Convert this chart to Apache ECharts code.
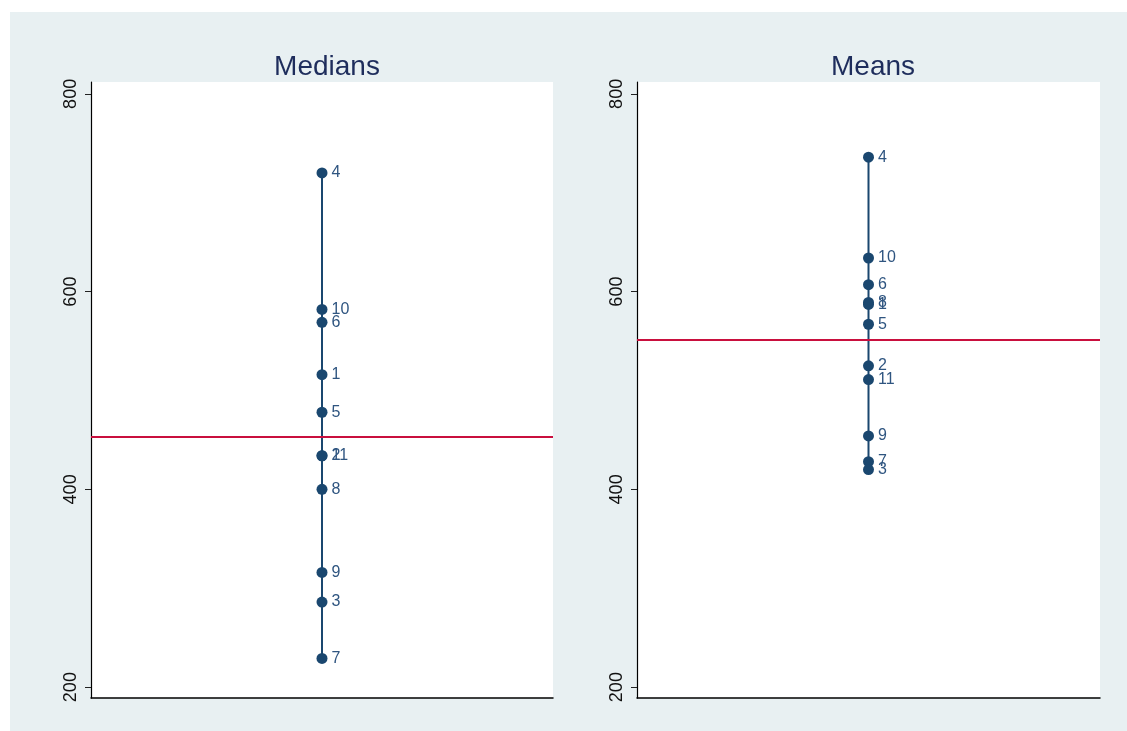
<!DOCTYPE html>
<html>
<head>
<meta charset="utf-8">
<title>Medians and Means</title>
<script src="https://cdn.jsdelivr.net/npm/echarts@6/dist/echarts.min.js"></script>
<style>
  html, body { margin: 0; padding: 0; background: #ffffff; }
  #chart { width: 1127px; height: 731px; }
</style>
</head>
<body>
<div id="chart"></div>
<script>
// Group identifiers and their summary values (one point per group)
const medianIds    = [4, 10, 6, 1, 5, 2, 11, 8, 9, 3, 7];
const medianValues = [720, 582, 569, 516, 478, 434, 434, 400, 316, 286, 229];
const medianRef    = 453;   // overall median

const meanIds      = [4, 10, 6, 8, 1, 5, 2, 11, 9, 7, 3];
const meanValues   = [736, 634, 607, 589, 587, 567, 525, 511, 454, 428, 420];
const meanRef      = 551;   // overall mean

const panelTitles  = ['Medians', 'Means'];
const tickValues   = [200, 400, 600, 800];

const navy = '#1a476f';
const labelBlue = '#2f5580';
const refRed = '#c90f3e';
const fontFam = 'Liberation Sans, Arial, sans-serif';

function points(ids, values) {
  return ids.map((id, i) => ({ value: [0.5, values[i]], name: String(id) }));
}

function yAxisFor(idx) {
  return {
    type: 'value', gridIndex: idx, min: 189, max: 812,
    splitLine: { show: false },
    axisLine: { show: true, lineStyle: { color: '#000', width: 1.2 } },
    axisTick: { show: true, length: 6, customValues: tickValues, lineStyle: { color: '#222' } },
    axisLabel: {
      show: true, rotate: 90, margin: 11, customValues: tickValues,
      color: '#111', fontSize: 18, fontFamily: fontFam
    }
  };
}

function xAxisFor(idx) {
  return {
    type: 'value', gridIndex: idx, min: 0, max: 1,
    splitLine: { show: false },
    axisLine: { show: true, onZero: false, lineStyle: { color: '#000', width: 1.5 } },
    axisTick: { show: false },
    axisLabel: { show: false }
  };
}

function seriesFor(idx, ids, values, ref) {
  return {
    type: 'line', xAxisIndex: idx, yAxisIndex: idx,
    data: points(ids, values),
    symbol: 'circle', symbolSize: 11,
    itemStyle: { color: navy },
    lineStyle: { color: navy, width: 2 },
    label: {
      show: true, position: 'right', distance: 4, offset: [0, 1],
      formatter: p => p.name,
      color: labelBlue, fontSize: 16, fontFamily: fontFam
    },
    labelLayout: { hideOverlap: false },
    animation: false,
    markLine: {
      silent: true, symbol: 'none', label: { show: false },
      lineStyle: { color: refRed, width: 2, type: 'solid' },
      data: [{ yAxis: ref }]
    }
  };
}

const titleStyle = { color: '#1e2d5c', fontSize: 28, fontWeight: 'normal', fontFamily: fontFam };

const chart = echarts.init(document.getElementById('chart'), null, { renderer: 'canvas' });
chart.setOption({
  backgroundColor: '#ffffff',
  animation: false,
  graphic: [{
    type: 'rect', z: -10, silent: true,
    shape: { x: 10, y: 12, width: 1117, height: 719 },
    style: { fill: '#e8f0f2' }
  }],
  title: [
    { text: panelTitles[0], left: 322, top: 48, textAlign: 'center', textStyle: titleStyle },
    { text: panelTitles[1], left: 868, top: 48, textAlign: 'center', textStyle: titleStyle }
  ],
  grid: [
    { left: 91, top: 82, width: 462, height: 616, show: true, backgroundColor: '#ffffff', borderWidth: 0 },
    { left: 637, top: 82, width: 463, height: 616, show: true, backgroundColor: '#ffffff', borderWidth: 0 }
  ],
  xAxis: [xAxisFor(0), xAxisFor(1)],
  yAxis: [yAxisFor(0), yAxisFor(1)],
  series: [
    seriesFor(0, medianIds, medianValues, medianRef),
    seriesFor(1, meanIds, meanValues, meanRef)
  ]
});
</script>
</body>
</html>
